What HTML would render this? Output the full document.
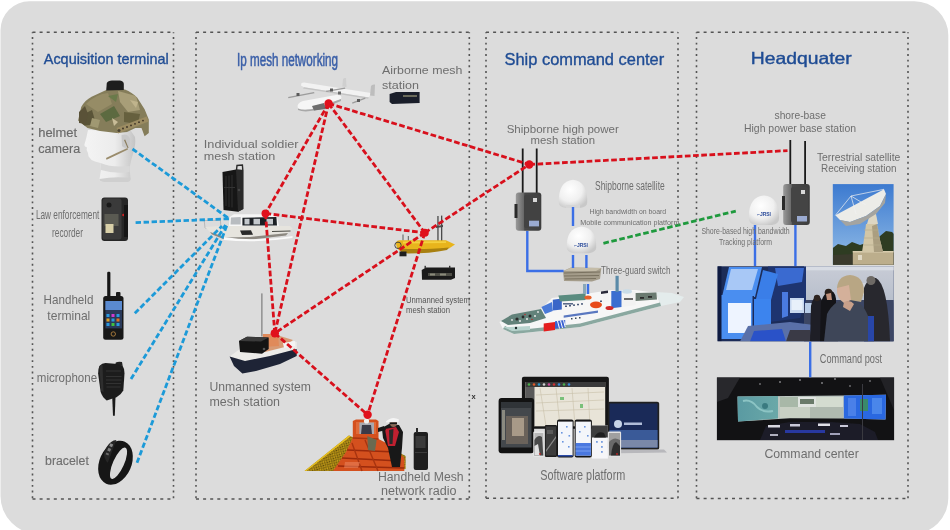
<!DOCTYPE html>
<html><head><meta charset="utf-8">
<style>
html,body{margin:0;padding:0;background:#fff;width:950px;height:530px;overflow:hidden}
svg{display:block;will-change:transform}
text{font-family:"Liberation Sans",sans-serif}
.t{fill:#1f4c94;stroke:#1f4c94;stroke-width:0.35}
.g{fill:#6e6e6e}
</style></head><body>
<svg width="950" height="530" viewBox="0 0 950 530">
<defs>
</defs>
<!-- panel -->
<path d="M29.5 1.2 H914.3 A34 34 0 0 1 948.3 35.2 V498 A36 36 0 0 1 912.3 534 H38.5 A38 38 0 0 1 0.5 496 V30.2 A29 29 0 0 1 29.5 1.2Z" fill="#dcdcdc"/>

<!-- dashed boxes -->
<g fill="none" stroke="#545454" stroke-width="1.6">
<g stroke-dasharray="3 4.1">
<line x1="32.5" y1="32.3" x2="173.5" y2="32.3"/><line x1="32.5" y1="499" x2="173.5" y2="499"/>
<line x1="196" y1="32.3" x2="469.3" y2="32.3"/><line x1="196" y1="499" x2="469.3" y2="499"/>
<line x1="486" y1="32.3" x2="678" y2="32.3"/><line x1="486" y1="498.3" x2="678" y2="498.3"/>
<line x1="696.5" y1="32.3" x2="908" y2="32.3"/><line x1="696.5" y1="498.5" x2="908" y2="498.5"/>
</g>
<g stroke-dasharray="1.9 3.77" stroke-dashoffset="0.95">
<line x1="32.5" y1="32.3" x2="32.5" y2="499"/><line x1="173.5" y1="32.3" x2="173.5" y2="499"/>
<line x1="196" y1="32.3" x2="196" y2="499"/><line x1="469.3" y1="32.3" x2="469.3" y2="499"/>
<line x1="486" y1="32.3" x2="486" y2="498.3"/><line x1="678" y1="32.3" x2="678" y2="498.3"/>
<line x1="696.5" y1="32.3" x2="696.5" y2="498.5"/><line x1="908" y1="32.3" x2="908" y2="498.5"/>
</g>
</g>

<!-- titles -->
<text class="t" x="43.8" y="64.2" font-size="15" textLength="125" lengthAdjust="spacingAndGlyphs">Acquisition terminal</text>
<text class="t" x="237" y="65.8" font-size="18" textLength="101" lengthAdjust="spacingAndGlyphs" style="fill:#3a5fa8;stroke:#3a5fa8;stroke-width:0.55">Ip mesh networking</text>
<text class="t" x="504.5" y="64.7" font-size="16.3" textLength="159.7" lengthAdjust="spacingAndGlyphs">Ship command center</text>
<text class="t" x="750.7" y="63.7" font-size="16.5" textLength="101" lengthAdjust="spacingAndGlyphs" style="stroke-width:0.4">Headquater</text>

<!-- ===== HQ photos ===== -->
<!-- dish photo -->
<g>
<defs>
<linearGradient id="sky" x1="0" y1="0" x2="0" y2="1"><stop offset="0" stop-color="#3c7ad0"/><stop offset="0.7" stop-color="#79a9e0"/><stop offset="1" stop-color="#9cc0e8"/></linearGradient>
<clipPath id="dishclip"><rect x="832.8" y="184.1" width="60.8" height="80.7"/></clipPath>
</defs>
<rect x="832.8" y="184.1" width="60.8" height="80.7" fill="url(#sky)"/>
<g clip-path="url(#dishclip)">
<path d="M832.8 248 L838 244 L846 246 L852 242 L860 245 L866 243 L872 246 L880 236 L886 231 L892 232 L894 234 L894 265 L832.8 265Z" fill="#2e3c22"/>
<path d="M832.8 255 L894 252 L894 265 L832.8 265Z" fill="#3a3a2c"/>
<rect x="852.8" y="251" width="41" height="14" fill="#bcae8c"/>
<rect x="852.8" y="251" width="41" height="1.5" fill="#d8ccae"/>
<rect x="858" y="255" width="4" height="5" fill="#e0d8c4"/>
<path d="M862 252 L864.5 236 L866 224 L877 224 L879 236 L883 252Z" fill="#d2c6a6"/>
<path d="M872 226 L877 224 L879 236 L883 252 L874 252Z" fill="#aa9e80"/>
<path d="M864 230 L879 230 M863.5 238 L880 238 M863 245 L881.5 245" stroke="#b8ac8c" stroke-width="0.7"/>
<path d="M867 224 L870 214 L876 214 L878 224Z" fill="#ddd6c2"/>
<path d="M835.4 215.3 L884 189.3 L886 194 L880 206 L866 216 L850 222 L840 220Z" fill="#ecece8"/>
<path d="M840 220 L850 222 L866 216 L880 206 L886 194 L885 203 L876 214 L860 224 L846 226Z" fill="#a4a4a0"/>
<path d="M835.4 215.3 L851 196 L866 205 M851 196 L884 189.3 M851 196 L856 214" fill="none" stroke="#f0f0f0" stroke-width="0.7"/>
</g>
</g>

<!-- control room photo -->
<g>
<defs><clipPath id="crclip"><rect x="717.5" y="266.3" width="176.1" height="75"/></clipPath>
<linearGradient id="crwall" x1="0" y1="0" x2="0" y2="1"><stop offset="0" stop-color="#c8ccd6"/><stop offset="0.45" stop-color="#b8bfcc"/><stop offset="0.5" stop-color="#8a94aa"/><stop offset="1" stop-color="#4a5470"/></linearGradient></defs>
<rect x="717.5" y="266.3" width="176.1" height="75" fill="#1c2c58"/>
<g clip-path="url(#crclip)">
<rect x="804" y="266.3" width="90" height="75" fill="url(#crwall)"/>
<rect x="804" y="266.3" width="90" height="4" fill="#d8dce4"/>
<rect x="804" y="300" width="90" height="42" fill="#3c4664"/>
<rect x="840" y="283" width="30" height="12" fill="#d0d4dc"/>
<!-- middle structure -->
<path d="M768 266.3 L806 266.3 L806 300 L800 318 L770 322Z" fill="#1e3470"/>
<path d="M775 268 L804 268 L802 282 L778 286Z" fill="#3a6ad0"/>
<path d="M782 292 L788 292 L788 316 L782 318Z" fill="#4a7ae0"/>
<rect x="790" y="298" width="14" height="15" fill="#c8d8f0"/>
<rect x="791.5" y="300" width="11" height="10" fill="#e8f0fa"/>
<rect x="805" y="303" width="7" height="10" fill="#b8cce8"/>
<!-- monitors -->
<path d="M722 297 L729 267 L762 267 L755 297Z" fill="#4a8ef0"/>
<path d="M726 290 L731 269 L758 269 L752 290Z" fill="#a8c8f6"/>
<path d="M756 299 L763 270 L778 274 L771 300Z" fill="#3a7ee8"/>
<rect x="721" y="295" width="32" height="44" fill="#4a8ef0"/>
<rect x="728" y="303" width="23" height="30" fill="#eef4ff"/>
<rect x="753" y="299" width="18" height="29" fill="#3c84ee"/>
<rect x="717.5" y="266.3" width="4" height="75" fill="#0e1a40"/>
<rect x="752.5" y="296" width="1.5" height="40" fill="#1a2a5a"/>
<path d="M740 341.6 L748 326 L790 322 L822 326 L822 341.6Z" fill="#5a70a8"/>
<path d="M750 341.6 L754 331 L782 329 L786 341.6Z" fill="#2a52c8"/>
<path d="M786 341.6 L790 330 L810 330 L812 341.6Z" fill="#3a3a46"/>
<!-- people -->
<path d="M810 341.6 L811 306 Q813 296 818 296 Q823 298 822 306 L824 341.6Z" fill="#1e1e26"/>
<circle cx="817" cy="298" r="3.2" fill="#2e2420"/>
<path d="M820 341.6 L821 302 Q825 290 831 290.5 Q837 293 836 304 L838 341.6Z" fill="#141418"/>
<circle cx="828.5" cy="292.5" r="3.8" fill="#2a201a"/>
<path d="M826 294 L831 293 L832 300 L827 300Z" fill="#c0907a"/>
<path d="M864 341.6 L864 288 Q868 277 876 278 Q888 284 890 341.6Z" fill="#28282e"/>
<circle cx="871" cy="280.5" r="4.5" fill="#6e6a66"/>
<rect x="864" y="316" width="10" height="26" fill="#2846a8"/>
<path d="M824 341.6 L827 314 Q834 300 848 299 Q862 300 868 316 L868 341.6Z" fill="#3e4658"/>
<path d="M837 292 Q836 276 850 275 Q864 276 864 292 L861 302 L850 300Z" fill="#b8a684"/>
<path d="M837 288 Q836 298 844 303 L851 300 L849 285Z" fill="#d4b09a"/>
<path d="M844 302 q6 -3 10 2 l-4 7 -7 -4z" fill="#c8a08a"/>
</g>
</g>

<!-- command center photo -->
<g>
<defs>
<clipPath id="ccclip"><rect x="716.9" y="377.4" width="177.2" height="62.8"/></clipPath>
<linearGradient id="scrL" x1="0" y1="0" x2="1" y2="0"><stop offset="0" stop-color="#5a9aa2"/><stop offset="1" stop-color="#6aa8a8"/></linearGradient>
</defs>
<rect x="716.9" y="377.4" width="177.2" height="62.8" fill="#121214"/>
<g clip-path="url(#ccclip)">
<path d="M716.9 377.4 L740 377.4 L728 398 L716.9 402Z" fill="#28282c"/>
<path d="M880 377.4 L894 377.4 L894 410Z" fill="#222226"/>
<path d="M737.5 396.5 L843.8 395.5 L886 394.8 L885.5 419.5 L843.8 418.5 L790 418.3 L738 421.5Z" fill="#bcc6c0"/>
<path d="M737.5 396.5 L778 396 L778 418.4 L738 421.5Z" fill="url(#scrL)"/>
<path d="M743 401 q8 -2 14 6 q6 6 16 4" fill="none" stroke="#8cc4c4" stroke-width="2"/>
<circle cx="765" cy="406" r="3" fill="#3a7a80"/>
<rect x="780" y="397" width="18" height="10" fill="#a8b8a8"/>
<rect x="798" y="397" width="18" height="10" fill="#e0e4e0"/>
<rect x="800" y="399" width="14" height="5" fill="#6a7a6a"/>
<rect x="816" y="397" width="27" height="10" fill="#d4dcd0"/>
<rect x="780" y="407" width="30" height="11" fill="#c8d0c4"/>
<rect x="810" y="407" width="33" height="11" fill="#b0bab0"/>
<path d="M843.8 395.5 L886 394.8 L885.5 419.5 L843.8 418.5Z" fill="#2a68e0"/>
<rect x="860" y="399" width="8" height="12" fill="#3a8a6a"/>
<rect x="848" y="398" width="8" height="18" fill="#4a80e8"/>
<rect x="872" y="398" width="10" height="16" fill="#4a86ea"/>
<!-- consoles -->
<path d="M760 440 L766 426 L790 422 L830 422 L860 424 L875 432 L878 440Z" fill="#1c1c28"/>
<rect x="768" y="425" width="12" height="2.5" fill="#d8d8e0"/>
<rect x="790" y="424" width="10" height="2.5" fill="#c8c8d8"/>
<rect x="818" y="423.5" width="12" height="2.5" fill="#e0e0e8"/>
<rect x="840" y="425" width="8" height="2" fill="#c8c8d8"/>
<rect x="785" y="430" width="40" height="3" fill="#2838a0"/>
<rect x="770" y="434" width="8" height="2" fill="#b0b0c0"/>
<rect x="830" y="433" width="10" height="2" fill="#a0a0b8"/>
<rect x="862" y="384" width="1" height="56" fill="#3a3a40"/>
<g fill="#c8c8cc"><circle cx="780" cy="382" r="0.8"/><circle cx="800" cy="380" r="0.8"/><circle cx="822" cy="383" r="0.8"/><circle cx="835" cy="379" r="0.8"/><circle cx="760" cy="384" r="0.7"/><circle cx="850" cy="386" r="0.7"/><circle cx="870" cy="381" r="0.7"/></g>
</g>
</g>

<!-- ===== Ship column ===== -->
<defs>
<radialGradient id="dome" cx="0.4" cy="0.35" r="0.7"><stop offset="0" stop-color="#ffffff"/><stop offset="0.6" stop-color="#f0f0f0"/><stop offset="1" stop-color="#c8c8c8"/></radialGradient>
<linearGradient id="boxg" x1="0" y1="0" x2="1" y2="0"><stop offset="0" stop-color="#9a9a9a"/><stop offset="0.3" stop-color="#6a6a6a"/><stop offset="0.35" stop-color="#484848"/><stop offset="1" stop-color="#3e3e3e"/></linearGradient>
</defs>
<!-- shipborne station -->
<g>
<rect x="521.8" y="148.5" width="1.8" height="46" fill="#1a1a1a"/>
<rect x="535.8" y="148.5" width="1.8" height="46" fill="#1a1a1a"/>
<rect x="515.8" y="192.4" width="25.5" height="38.3" rx="3" fill="url(#boxg)"/>
<rect x="524" y="195" width="16" height="33" rx="2" fill="#424242"/>
<rect x="533" y="198" width="4" height="4" fill="#d8d8d8"/>
<rect x="529" y="220.7" width="10" height="5.7" fill="#9aaad0"/>
<rect x="514.5" y="204" width="3" height="14" fill="#2a2a2a"/>
</g>
<!-- dome 1 -->
<path d="M558.8 203 Q558 181 573 179.7 Q588 181 587.2 203 Q587 207 580 208 L566 208 Q559 207 558.8 203Z" fill="url(#dome)"/>
<rect x="566" y="205" width="14" height="3" fill="#d6d6d6"/>
<!-- dome 2 -->
<path d="M566.8 248 Q566 228 581.5 226.4 Q597 228 596.2 248 Q596 252 589 253.3 L574 253.3 Q567 252 566.8 248Z" fill="url(#dome)"/>
<text x="574" y="246.8" font-size="4.6" font-weight="bold" fill="#2a4a9a" textLength="14" lengthAdjust="spacingAndGlyphs" stroke="none">⌐JRSI</text>
<!-- switch -->
<path d="M563 271 L571 267.5 L601.3 268 L600 279 L592 281.6 L564 281Z" fill="#a49c8a"/>
<path d="M564 273 L600 272 M564 276 L599 275.5 M565 279 L596 278.5" stroke="#7a7260" stroke-width="1"/>
<path d="M571 267.5 L601.3 268 L596 271 L564 271Z" fill="#c4bca8"/>
<!-- ship -->
<g>
<path d="M656 292 L672 293 L684 297 L680 302 L661 306Z" fill="#e4ecec"/>
<path d="M499.5 322 L510 316 L541 309 L552 298 L585 294 L611 290 L636 290 L656 293 L659 301 L661 306 L580 327 L514 334 L503 329Z" fill="#f6f6f6"/>
<path d="M503 329 L514 334 L580 327 L661 306 L660 302.5 L580 323.5 L514 330.5 L505 326Z" fill="#8aa8a0"/>
<path d="M501 321 L512 314.5 L541 309 L546 318 L530 323 L508 325Z" fill="#62827a"/>
<path d="M503 327 L512 331 L530 330 L530 326 L510 327Z" fill="#b8d4ce"/>
<g fill="#2a2a2a"><circle cx="517" cy="319" r="1.6"/><circle cx="523" cy="317" r="1.4"/><circle cx="530" cy="316" r="1.5"/></g>
<g fill="#e8e8e8"><circle cx="520" cy="321" r="1"/><circle cx="527" cy="319" r="1"/><circle cx="535" cy="316" r="1"/><circle cx="512" cy="320" r="0.9"/><circle cx="538" cy="312" r="0.9"/></g><g fill="#b83030"><circle cx="525" cy="314.5" r="0.8"/><circle cx="532" cy="319.5" r="0.8"/></g>
<path d="M543.7 323.5 L555 322 L555 330 L543.7 331.5Z" fill="#e41e1e"/>
<path d="M555 321.3 L565.2 320 L565.2 327.5 L555 328.8Z" fill="#3a62d0"/>
<path d="M557.5 321 L559.5 328.5 M560.5 320.6 L562.5 328 M563.5 320.3 L565.2 327" stroke="#ffffff" stroke-width="1"/>
<path d="M541.4 307 L552 302 L552.8 311 L545 314Z" fill="#4a7ad8"/>
<path d="M552.8 299.8 L561.8 298.5 L561.8 309.5 L552.8 310.6Z" fill="#3a66c8"/>
<path d="M558.4 295.5 L585.6 293.5 L585.6 300 L560 301.5Z" fill="#5a8c80"/>
<rect x="563" y="303" width="10" height="1.6" fill="#5a6a8a"/>
<path d="M563.7 315.5 L598 310.5 L598 312.8 L563.7 317.8Z" fill="#5a78c0"/>
<g fill="#4a5a7a"><rect x="565" y="305.5" width="2" height="1.5"/><rect x="569" y="305" width="2" height="1.5"/><rect x="573" y="304.4" width="2" height="1.5"/><rect x="577" y="303.8" width="2" height="1.5"/><rect x="581" y="303.2" width="2" height="1.5"/><rect x="600" y="300.5" width="2" height="1.5"/><rect x="604" y="300" width="2" height="1.5"/></g>
<g fill="#3a4a5a"><rect x="571" y="318" width="1.5" height="1.5"/><rect x="575" y="317.5" width="1.5" height="1.5"/><rect x="579" y="317" width="1.5" height="1.5"/></g>
<path d="M611.3 291 L621.7 290.8 L621.7 307 L611.3 308.2Z" fill="#3a6ed0"/>
<path d="M621.7 291 L635.6 290.8 L635.6 305 L621.7 307Z" fill="#f2f2f2"/>
<rect x="624" y="298" width="9" height="2" fill="#6a6a6a"/>
<ellipse cx="627" cy="291.5" rx="5" ry="2.2" fill="#c8dce8"/>
<rect x="615.5" y="275.8" width="3.2" height="16" fill="#5a8aa8"/>
<rect x="603" y="292" width="6" height="10" fill="#f4f4f4"/>
<path d="M601 291.5 L608 290.5 L608 293 L601 294Z" fill="#2a2a3a"/>
<path d="M635.6 293 L656.4 292.5 L657 299.5 L635.6 301Z" fill="#6a7a70"/>
<rect x="640" y="297" width="4" height="1.8" fill="#2a2a2a"/><rect x="648" y="296" width="4" height="1.8" fill="#2a2a2a"/>
<ellipse cx="596" cy="304.8" rx="6" ry="3.4" fill="#e84a1a"/>
<ellipse cx="588" cy="297.5" rx="3.6" ry="2" fill="#e8602a"/>
<ellipse cx="609.5" cy="308" rx="4" ry="2" fill="#d02a2a"/>
<circle cx="516" cy="328" r="1.2" fill="#1a2a2a"/>
<rect x="583" y="284" width="3" height="10" fill="#8aa8b8"/>
</g>

<!-- software platform -->
<g>
<rect x="521.9" y="376.8" width="87" height="52" rx="2" fill="#151515"/>
<rect x="525.5" y="382" width="79.7" height="44.3" fill="#e8e4d8"/>
<rect x="525.5" y="382" width="79.7" height="5" fill="#3a3a3a"/>
<g fill="#4ab04a"><circle cx="529" cy="384.5" r="1.3"/></g>
<circle cx="534" cy="384.5" r="1.3" fill="#e05a2a"/><circle cx="539" cy="384.5" r="1.3" fill="#2a9ad0"/><circle cx="544" cy="384.5" r="1.3" fill="#d0d0d0"/><circle cx="549" cy="384.5" r="1.3" fill="#d04a9a"/><circle cx="554" cy="384.5" r="1.3" fill="#d03030"/><circle cx="559" cy="384.5" r="1.3" fill="#3a8ad8"/><circle cx="564" cy="384.5" r="1.3" fill="#4ab04a"/><circle cx="569" cy="384.5" r="1.3" fill="#3a8ad8"/>
<rect x="525.5" y="387" width="9" height="39" fill="#5a5a5a"/>
<g stroke="#c8c0a8" stroke-width="0.6"><path d="M536 395 L604 392 M536 403 L604 400 M536 411 L604 409 M540 388 L546 426 M556 388 L560 426 M572 388 L575 426 M588 388 L590 426"/></g>
<g fill="#7ac07a"><rect x="560" y="397" width="4" height="3"/><rect x="580" y="404" width="3" height="4"/></g>
<!-- laptop -->
<rect x="607.7" y="401.8" width="51.5" height="48" rx="2" fill="#202020"/>
<rect x="609.5" y="403.5" width="48" height="44" fill="#1a2a58"/>
<rect x="609.5" y="430" width="48" height="17.5" fill="#3a5a98"/>
<rect x="609.5" y="440" width="48" height="7.5" fill="#7a88a8"/>
<circle cx="618" cy="424" r="4" fill="#c8d4e8"/>
<rect x="624" y="422.5" width="18" height="2.5" fill="#b0bcd8"/>
<path d="M620 449.6 L664 449.6 L667 452.5 L620 453.3Z" fill="#b8b8bc"/>
<!-- tablet -->
<rect x="498.6" y="398" width="35.5" height="55.3" rx="3" fill="#121212"/>
<rect x="501" y="402" width="30.5" height="45.5" fill="#44484c"/>
<rect x="501" y="402" width="30.5" height="6" fill="#303438"/>
<rect x="506" y="416" width="22" height="28" fill="#6a625a"/>
<rect x="512" y="418" width="12" height="18" fill="#a89a88"/>
<rect x="502" y="410" width="3" height="30" fill="#8a8a80"/>
<!-- phones -->
<rect x="533.3" y="431.5" width="11" height="25.5" rx="1.2" fill="#e6e6e6"/>
<rect x="534.4" y="433" width="8.9" height="22.5" fill="#b8b8b8"/>
<path d="M534.4 440 Q538 434 542 437 L543.3 455.5 L534.4 455.5Z" fill="#4a4a4a"/>
<path d="M534.4 446 L538 444 L540 455.5 L534.4 455.5Z" fill="#e0e0e0"/>
<circle cx="540" cy="454" r="0.9" fill="#c02020"/>
<rect x="544.9" y="425" width="12.1" height="32" rx="1.2" fill="#1e1e1e"/>
<rect x="545.8" y="426.5" width="10.3" height="29" fill="#3c3c3c"/>
<path d="M546 450 L556 436 L556 438 L546 452Z" fill="#8a8a8a"/>
<rect x="547" y="430" width="6" height="4" fill="#5a5a5a"/>
<rect x="557" y="419.4" width="16.6" height="38.1" rx="2" fill="#161616"/>
<rect x="558" y="421.6" width="14.6" height="34" fill="#f4f6fa"/>
<g fill="#6a96e0"><rect x="566" y="426" width="1.6" height="1.6"/><rect x="561" y="432" width="1.6" height="1.6"/><rect x="568.5" y="435" width="1.6" height="1.6"/><rect x="562" y="441" width="1.6" height="1.6"/><rect x="568" y="446" width="1.6" height="1.6"/></g>
<rect x="558" y="455" width="14.6" height="1.5" fill="#2a4aa8"/>
<rect x="574.7" y="419.4" width="17.2" height="38.1" rx="2" fill="#161616"/>
<rect x="575.7" y="421.6" width="15.2" height="34" fill="#f4f6fa"/>
<g fill="#6a96e0"><rect x="584" y="426" width="1.6" height="1.6"/><rect x="579" y="431" width="1.6" height="1.6"/><rect x="587" y="435" width="1.6" height="1.6"/></g>
<rect x="575.7" y="443" width="15.2" height="12.6" fill="#4a78e0"/>
<rect x="575.7" y="446.5" width="15.2" height="1" fill="#7aa0f0"/><rect x="575.7" y="450.5" width="15.2" height="1" fill="#7aa0f0"/>
<rect x="591.9" y="425.5" width="16" height="33.1" fill="#f6f6f8"/>
<rect x="591.9" y="425.5" width="16" height="12" fill="#3e3e3e"/>
<path d="M594 437.5 Q598 430 604 433 L606 437.5Z" fill="#1e1e1e"/>
<g fill="#7aa0e0"><rect x="601" y="441" width="1.8" height="1.8"/><rect x="601" y="446" width="1.8" height="1.8"/><rect x="601" y="451" width="1.8" height="1.8"/><rect x="596" y="441" width="1.8" height="1.8"/></g>
<rect x="607.9" y="431.5" width="13.2" height="25.5" rx="1.2" fill="#e2e2e2"/>
<rect x="609" y="433" width="11" height="22.5" fill="#6a6a6a"/>
<path d="M609 433 L620 433 L620 440 Q614 436 609 442Z" fill="#a0a0a0"/>
<path d="M611 455.5 Q612 444 616 442 L620 446 L620 455.5Z" fill="#2e2e2e"/>
<circle cx="617" cy="454" r="0.9" fill="#c02020"/>
</g>

<!-- HQ base station & dome -->
<g>
<rect x="789.4" y="140" width="1.8" height="48" fill="#1a1a1a"/>
<rect x="804.2" y="141" width="1.8" height="48" fill="#1a1a1a"/>
<rect x="783.2" y="184" width="26.6" height="41" rx="3" fill="url(#boxg)"/>
<rect x="791" y="187" width="17" height="35.5" rx="2" fill="#444"/>
<rect x="801" y="190" width="4" height="4" fill="#d8d8d8"/>
<rect x="797" y="216" width="10" height="5.5" fill="#9aaad0"/>
<rect x="782" y="196" width="3" height="14" fill="#2a2a2a"/>
</g>
<path d="M748.9 219 Q748 197 764 195.6 Q780 197 779 219 Q779 224 772 225 L756 225 Q749 224 748.9 219Z" fill="url(#dome)"/>
<text x="757" y="215.8" font-size="4.6" font-weight="bold" fill="#2a4a9a" textLength="14" lengthAdjust="spacingAndGlyphs" stroke="none">⌐JRSI</text>

<!-- ===== Mesh column ===== -->
<!-- drone -->
<g>
<path d="M301.5 83 L304 82.5 L371 93 L369 97.6 L304 87.2 L301 85.5Z" fill="#f2f2f2"/>
<path d="M304 87.2 L369 97.6 L368 98.8 L303 88.6Z" fill="#c4c4c4"/>
<path d="M342.3 86.5 L343 79 Q344 77.5 346 78 L346.5 87Z" fill="#cfcfcf"/>
<path d="M370 95.5 L371 86 Q372 84 375 84.5 L374.5 96Z" fill="#bdbdbd"/>
<path d="M288 97 L314 92 L314.5 93.2 L288.5 98.3Z" fill="#9c9c9c"/>
<path d="M326 90.8 L345 87.5 L345.3 88.7 L326.3 92Z" fill="#9c9c9c"/>
<path d="M352 102.5 L365 97.5 L365.5 98.7 L352.5 103.7Z" fill="#9c9c9c"/>
<rect x="296.5" y="93" width="3" height="3" fill="#5a5a5a"/>
<rect x="330" y="88.5" width="3" height="3" fill="#5a5a5a"/>
<rect x="357" y="99" width="3" height="3" fill="#5a5a5a"/>
<rect x="338" y="91.5" width="3" height="3" fill="#6a6a6a"/>
<path d="M298 108.5 Q296 103 303 101 L336 95 Q343 94.5 341 99 L318 107.5 Q305 111.5 298 108.5Z" fill="#f6f6f6"/>
<path d="M298 108.5 Q305 111.5 318 107.5 L341 99 L341 101 L320 109.6 Q304 113 298 110Z" fill="#a8a8a8"/>
<path d="M312 106 L324 103 L326 109 L314 110.5Z" fill="#6e6e6e"/>
</g>
<!-- airborne box -->
<path d="M389.6 94 L396 92 L419.6 92 L419.6 103 L392 104 L389.6 102Z" fill="#1a1e2a"/>
<rect x="403" y="95" width="14" height="2" fill="#6a6a5a"/>
<!-- backpack -->
<g>
<path d="M236.5 170 L237 165.5 L242.4 165 L242.8 170" fill="none" stroke="#2a2a2a" stroke-width="1.4"/>
<path d="M222.5 172 L236 169.5 L243.3 170 L243.3 209 L238 211.8 L223.5 210Z" fill="#161616"/>
<path d="M236 169.5 L243.3 170 L243.3 209 L238 211.8Z" fill="#2a2a2a"/>
<g stroke="#353535" stroke-width="0.8"><path d="M226 176 L226 206 M229 175.5 L229 207 M232 175 L232 207.5"/></g>
<rect x="224" y="187" width="11" height="1" fill="#333"/>
<circle cx="239" cy="190" r="1.3" fill="#444"/>
</g>
<!-- white boat -->
<g>
<path d="M204.2 220.5 L220.4 220.3 L221 228 L205 228Z" fill="none" stroke="#b8b8b8" stroke-width="1"/>
<path d="M205 227 L226 225.5 L290 226 L292.5 228.5 L288 233 L250 237 L226 237.5 L210 232Z" fill="#e6e4de"/>
<path d="M210 232 L226 237.5 L250 237 L288 233 L286 235.5 L250 239.8 L226 240 L212 234.5Z" fill="#8c8880"/>
<path d="M228.9 226 L229.7 216.9 L234 214.3 L276.4 214.3 L279 226Z" fill="#f6f6f6"/>
<path d="M230.5 224.5 L231 217.5 L240.7 216.9 L240.7 224.5Z" fill="#b8bcc0"/>
<path d="M242.4 217.7 L276.4 217 L277 225.4 L242.4 225.4Z" fill="#1c2024"/>
<g fill="#c4c8cc"><rect x="244.5" y="218.8" width="5" height="5.6"/><rect x="253.5" y="218.8" width="6.5" height="5.6"/><rect x="266.5" y="218.8" width="6.5" height="5.6"/></g>
<path d="M240 230.6 L251 230.2 L253 234.7 L242 235Z" fill="#2a2a2a"/><path d="M272 231 L290.5 230.5 L290.5 231.6 L272 232Z" fill="#4a4a44"/>
<path d="M223.8 237 Q255 242 292.5 236 L292.5 238 Q255 243.5 223.8 240Z" fill="#fafafa"/>
</g>
<!-- yellow boat -->
<g>
<rect x="437.3" y="216" width="1.3" height="25" fill="#4a4a4a"/>
<rect x="441" y="215.6" width="1.3" height="25.5" fill="#4a4a4a"/>
<path d="M436 226 L443 225 L443 227 L436 228Z" fill="#4a4a4a"/>
<rect x="402.5" y="234.5" width="1" height="6" fill="#5a5a5a"/>
<rect x="407.8" y="236" width="1" height="5" fill="#5a5a5a"/>
<path d="M396 243 Q396 240.5 400 240.2 L446 240.2 L455 244.5 L449 248.5 Q430 252.5 408 252.5 L400 251 Q396 248 396 243Z" fill="#e8b41c"/>
<path d="M400 248.5 Q420 250 449 247.5 L447 250 Q430 253.5 408 253.5 L401 252Z" fill="#a88010"/>
<path d="M403 241.5 L446 241.2 L446 243 L403 243.5Z" fill="#f4d040"/>
<circle cx="398" cy="245.3" r="3.2" fill="none" stroke="#3a3a3a" stroke-width="0.9"/>
<rect x="399.5" y="251.5" width="7" height="4.8" fill="#1e1e1e"/>
</g>
<!-- small box -->
<path d="M421.7 270 L426 267.5 L455 267.5 L455 278 L451 279.7 L422 279.7Z" fill="#1a1a1a"/>
<rect x="424.5" y="265.8" width="1.4" height="2.5" fill="#333"/><rect x="449" y="265.8" width="1.4" height="2.5" fill="#333"/>
<rect x="428" y="273" width="24" height="3" fill="#4e4e46"/><rect x="430" y="273.5" width="5" height="2" fill="#8a8a7a"/><rect x="440" y="273.5" width="6" height="2" fill="#8a8a7a"/>
<!-- orange boat -->
<g>
<rect x="261.4" y="293.4" width="1" height="43" fill="#6a6a6a"/>
<path d="M229.6 356.5 L240 349 L262 344 L285 338 L296.7 342 L296.7 349 L270 356 L245 361Z" fill="#ecebe8"/>
<path d="M250 348 L262 340 L280 336 L293 340 L285 347 L265 352Z" fill="#d89a74"/>
<path d="M262.8 334 L278 334 L279 346 L263 347Z" fill="#e08a5a"/>
<path d="M229.6 356.5 L245 361 L270 356 L296.7 349 L296.7 356 L280 364 L256 371 L242.4 373.5 L234 366Z" fill="#1e2436"/>
<path d="M239 341 L247 336.7 L268.7 337.5 L268.7 349 L262 353.7 L240 352Z" fill="#141414"/>
<path d="M239 341 L247 336.7 L268.7 337.5 L261 341.5Z" fill="#3a3a3a"/>
<circle cx="264" cy="349" r="1.3" fill="#555"/>
<path d="M283 343 L295 341 L295 346 L284 348Z" fill="#f4f4f4"/>
</g>
<!-- deck photo -->
<g>
<defs><pattern id="chk" width="2.4" height="2.4" patternUnits="userSpaceOnUse" patternTransform="rotate(-35)"><rect width="2.4" height="2.4" fill="#c8a018"/><rect width="1.2" height="1.2" fill="#5a4808"/><rect x="1.2" y="1.2" width="1.2" height="1.2" fill="#7a6010"/></pattern></defs>
<path d="M304.6 471 L348.9 435.4 L353.5 437.5 L346.5 452 L334 471Z" fill="url(#chk)"/>
<path d="M304.6 471 L348.9 435.4 L350.5 436.5 L306.5 471Z" fill="#e8c020"/>
<path d="M396.4 451 L405.6 456 L405.6 469 L398 470Z" fill="url(#chk)"/>
<path d="M333 471 L346 452 L352.8 438 L352.8 421 L356 419.5 L376 419.5 L378.5 421 L378.5 439 L392 446 L404.3 458 L404.3 471Z" fill="#d4501e"/>
<path d="M356 422 L376 422 L376 434 L356 434Z" fill="#e06a38"/>
<path d="M359.4 422.5 L374 422.5 L374 434 L359.4 434Z" fill="#a8a8b0"/>
<path d="M362 425 L371 425 L372 434 L361 434Z" fill="#3a3a48"/>
<circle cx="366.5" cy="421" r="2.6" fill="#f0f0f0"/>
<path d="M338 466 L404 468 M342 458 L400 461 M347 450 L396 452" stroke="#9a2a0c" stroke-width="1.6"/>
<path d="M352 443 L362 471 M365 440 L378 471 M352.8 438 L378.5 439" stroke="#a83410" stroke-width="1.4"/>
<path d="M345 462 L360 462 L358 468 L344 468Z" fill="#e8805a" opacity="0.6"/>
<path d="M367.3 436 L376.6 440 L375 451 L368 450Z" fill="#6a6a50"/>
<path d="M381.9 428 L389 424 L399 425 L403 432 L402 448 L400 467 L392 467 L388 448 L383 438Z" fill="#181818"/>
<path d="M385 429 L396 427 L399 432 L395 446 L388 446Z" fill="#c02030"/>
<path d="M389 430 L393.5 429 L392.5 444 L389.5 444Z" fill="#2a2a2a"/>
<circle cx="393.5" cy="423.5" r="3.4" fill="#8a6a58"/>
<path d="M386 421.5 Q392 415.5 399 419.5 L398.5 422 L386 422.5Z" fill="#f4f4f4"/>
<rect x="389.5" y="422.5" width="7.5" height="1.6" fill="#1a1a1a"/>
<path d="M378 428 L384 426 L386 430 L378 432Z" fill="#181818"/>
</g>
<!-- handheld radio -->
<rect x="413.7" y="432" width="14.3" height="38" rx="2" fill="#1e1e1e"/>
<rect x="416" y="428" width="2" height="5" fill="#2a2a2a"/>
<rect x="415.5" y="436" width="10" height="12" fill="#3a3a3a"/>
<rect x="415" y="452" width="12" height="1" fill="#3a3a3a"/>

<!-- ===== Acquisition column ===== -->
<!-- helmet + head -->
<g>
<defs><linearGradient id="headg" x1="0" y1="0" x2="1" y2="0"><stop offset="0" stop-color="#f4f4f4"/><stop offset="0.6" stop-color="#ececec"/><stop offset="1" stop-color="#c4c4c4"/></linearGradient>
<clipPath id="helmclip"><path d="M78.1 120.6 L81.2 107 Q85 100 91.6 96.7 L106.2 90 L124.9 89.4 Q132 92 137.3 97.7 L144.6 109.2 L148.8 119.6 L148.8 133 L144.6 136.2 L141.5 127.9 L135.3 127.9 L127 132 L116.6 133 L100 131 L87.5 127.9Z"/></clipPath></defs>
<path d="M88 130 L86.5 137 Q85.5 141 84.3 145 Q84.5 146.8 87 147.6 L86.6 150 L87.8 152.5 L88.6 156.5 Q90.5 160 95 161.5 L100.5 163 L101 170 L99.5 179 Q99 181.5 104 182 L127 182 Q131 181.5 130.5 178 L129.5 168 Q131 160 133.5 152 Q136 144 135 137 L131 131Z" fill="url(#headg)"/>
<path d="M100.5 163 Q112 168 129.5 166 L129.5 172 Q114 174 101 170Z" fill="#d8d8d8"/>
<path d="M99.5 179 Q99 181.5 104 182 L127 182 Q131 181.5 130.5 178 Q115 176 99.5 179Z" fill="#cfcfcf"/>
<path d="M121.5 135 Q128 133 130 139 L129.5 147 Q125 149.5 122 146Z" fill="#c8c8c8"/>
<path d="M106 158 Q116 153 127.5 148 L128 149.6 Q117 155 106.5 159.8Z" fill="#9a8c6c"/><path d="M127.5 148 L124 140 L125.2 139.6 L128.6 148Z" fill="#8a7c5c"/>
<path d="M78.1 120.6 L81.2 107 Q85 100 91.6 96.7 L106.2 90 L124.9 89.4 Q132 92 137.3 97.7 L144.6 109.2 L148.8 119.6 L148.8 133 L144.6 136.2 L141.5 127.9 L135.3 127.9 L127 132 L116.6 133 L100 131 L87.5 127.9Z" fill="#857d5a"/>
<g clip-path="url(#helmclip)">
<path d="M86 104 Q96 94 108 93 L112 104 L98 112Z" fill="#968c66"/>
<path d="M118 91 L136 96 L140 110 L128 112 L120 102Z" fill="#a89e78"/>
<path d="M100 114 L114 106 L120 116 L106 122Z" fill="#5c6a40"/>
<path d="M124 112 L140 114 L138 124 L124 122Z" fill="#66603e"/>
<path d="M80 116 L92 110 L96 124 L82 126Z" fill="#5a5438"/>
<path d="M108 96 L118 94 L116 102Z" fill="#6a7a4a"/>
<path d="M92 118 L100 120 L98 128 L90 126Z" fill="#a09872"/>
<path d="M130 100 L138 102 L136 108Z" fill="#c0b48c"/>
<path d="M112 118 L118 122 L114 126Z" fill="#c8bc98"/>
</g>
<path d="M116.6 128 L146.7 116.4 L148.5 121.5 L118 133.5Z" fill="#9c8c62"/>
<g fill="#3a3024"><circle cx="123" cy="128.5" r="0.9"/><circle cx="127" cy="127" r="0.9"/><circle cx="131" cy="125.4" r="0.9"/><circle cx="135" cy="123.8" r="0.9"/><circle cx="139" cy="122.2" r="0.9"/><circle cx="143" cy="120.6" r="0.9"/></g>
<circle cx="119" cy="130.5" r="1.6" fill="#4a4434"/>
<path d="M79 112 L85 106 L88 114 L86 124 L79 123Z" fill="#5a5238"/>
<path d="M106.2 90.5 L106.8 83 Q108 80.5 112 80.5 L120 80.5 Q123.8 81 123.8 84 L123.8 90Z" fill="#1e1e1e"/>
</g>
<!-- recorder -->
<g>
<rect x="101.5" y="197.5" width="26.5" height="43.5" rx="3" fill="#262626"/>
<rect x="102.5" y="198.5" width="19" height="41" rx="2.5" fill="#3a3a3a"/>
<circle cx="109" cy="205" r="2.5" fill="#1a1a1a"/>
<rect x="104.5" y="214" width="14" height="12" fill="#5a5a52"/>
<rect x="105.5" y="224" width="8" height="9" fill="#d8cfa8"/>
<circle cx="123.5" cy="215" r="1.3" fill="#d02020"/>
<rect x="124" y="205" width="4" height="32" fill="#151515"/>
</g>
<!-- handheld terminal -->
<g>
<rect x="107.2" y="271.8" width="3.2" height="26" rx="1.2" fill="#151515"/>
<rect x="116" y="292" width="4.5" height="5" rx="1" fill="#1a1a1a"/>
<rect x="103.2" y="296" width="20.3" height="43.7" rx="2.5" fill="#181818"/>
<rect x="105.4" y="301" width="16.6" height="27.4" fill="#2a3a5a"/>
<rect x="105.4" y="301" width="16.6" height="9" fill="#5a8ad0"/>
<g><rect x="106.5" y="314" width="3" height="3" fill="#2a9ae0"/><rect x="111.5" y="314" width="3" height="3" fill="#d03ad0"/><rect x="116.5" y="314" width="3" height="3" fill="#2a9ae0"/>
<rect x="106.5" y="318.5" width="3" height="3" fill="#e0a020"/><rect x="111.5" y="318.5" width="3" height="3" fill="#2a9ae0"/><rect x="116.5" y="318.5" width="3" height="3" fill="#e07020"/>
<rect x="106.5" y="323" width="3" height="3" fill="#2a9ae0"/><rect x="111.5" y="323" width="3" height="3" fill="#40c040"/><rect x="116.5" y="323" width="3" height="3" fill="#2a9ae0"/></g>
<circle cx="113.3" cy="334" r="2.2" fill="none" stroke="#c08a40" stroke-width="0.8"/>
</g>
<!-- microphone -->
<g>
<path d="M115.3 365 L115.8 362.5 Q118.5 361.2 122 362 L122.7 366Z" fill="#222"/>
<path d="M99.4 366 Q102 363 105.5 363 L118 364 L122.7 366 Q124.8 369 124.5 373.4 L123.3 390.6 Q121 395 116.5 397.3 L106.7 400.4 Q102 397 100.6 391.8 L98.1 373.4 Q98 369 99.4 366Z" fill="#1c1c1c"/>
<path d="M99.4 367 Q100.5 365 102.5 364.5 L103.5 392 L101 391Z" fill="#2e2e2e"/>
<g stroke="#353535" stroke-width="0.9"><path d="M106 371 L121 371 M106 376.5 L121.5 376.5 M106 380 L121.5 380 M106 383.5 L121 383.5 M106.5 387 L120.5 387"/></g>
<path d="M112.2 397 L115.5 396.7 L114.8 415.7 L113 415.7Z" fill="#1a1a1a"/>
</g>
<!-- bracelet -->
<g transform="rotate(24 115.5 462.7)">
<ellipse cx="115.5" cy="462.7" rx="16" ry="23" fill="#161616"/>
<ellipse cx="118.5" cy="462" rx="5.5" ry="17" fill="#dadada"/>
<path d="M101 452 Q102 444 107 441.5 L108.5 466 Q103 464 101 458Z" fill="#262626"/>
<rect x="103" y="447" width="3" height="3" fill="#8a8a8a"/><rect x="103" y="452" width="3" height="3" fill="#7a7a7a"/><rect x="103" y="457" width="3" height="2" fill="#6a6a6a"/>
</g>


<!-- solid blue links -->
<g stroke="#3b6fe6" stroke-width="2.4" fill="none">
<polyline points="527.3,231 527.3,271 563.6,271"/>
<line x1="573" y1="207" x2="573" y2="226"/>
<line x1="573" y1="255" x2="573" y2="268"/>
<line x1="586.4" y1="255" x2="586.4" y2="268"/>
<line x1="588" y1="284" x2="588" y2="294"/>
<line x1="755" y1="225" x2="755" y2="266"/>
<line x1="795.4" y1="225" x2="795.4" y2="266"/>
<line x1="810.2" y1="341.6" x2="810.2" y2="377.3"/>
</g>
<!-- blue dashed -->
<g stroke="#1c9ad8" stroke-width="2.8" stroke-dasharray="5.4 2.6" fill="none">
<line x1="132.5" y1="149" x2="229.8" y2="219.2"/>
<line x1="135.6" y1="222.6" x2="229.8" y2="218.7"/>
<line x1="134.8" y1="313.3" x2="222" y2="226"/>
<line x1="131" y1="379" x2="225.5" y2="225"/>
<line x1="137" y1="462.7" x2="227" y2="225"/>
</g>
<!-- green dashed -->
<line x1="603.4" y1="243.3" x2="735.8" y2="211.1" stroke="#1f9a3e" stroke-width="2.8" stroke-dasharray="5.6 2.6"/>
<!-- red dashed -->
<g stroke="#d8101c" stroke-width="2.8" stroke-dasharray="5.7 2.5" fill="none">
<line x1="328.6" y1="103.5" x2="265.5" y2="213.5"/>
<line x1="328.6" y1="103.5" x2="274.8" y2="333.2"/>
<line x1="328.6" y1="103.5" x2="424.8" y2="232.8"/>
<line x1="328.6" y1="103.5" x2="529.3" y2="164.5"/>
<line x1="265.5" y1="213.5" x2="424.8" y2="232.8"/>
<line x1="265.5" y1="213.5" x2="274.8" y2="333.2"/>
<line x1="424.8" y1="232.8" x2="529.3" y2="164.5"/>
<line x1="424.8" y1="232.8" x2="274.8" y2="333.2"/>
<line x1="424.8" y1="232.8" x2="367.6" y2="414.8"/>
<line x1="274.8" y1="333.2" x2="367.6" y2="414.8"/>
<line x1="529.3" y1="164.5" x2="787.5" y2="150.6"/>
</g>
<g fill="#e0101c">
<circle cx="328.6" cy="103.5" r="4.2"/>
<circle cx="265.5" cy="213.5" r="4"/>
<circle cx="424.8" cy="232.8" r="4"/>
<circle cx="274.8" cy="333.2" r="4.2"/>
<circle cx="367.6" cy="414.8" r="4.2"/>
<circle cx="529.3" cy="164.5" r="4.2"/>
</g>

<g class="g">
<text x="38.2" y="136.6" font-size="12.3" textLength="38.9" lengthAdjust="spacingAndGlyphs" fill="#6a6a6a" stroke="#6a6a6a" stroke-width="0.15">helmet</text>
<text x="38.2" y="153.2" font-size="12.3" textLength="42" lengthAdjust="spacingAndGlyphs" fill="#6a6a6a" stroke="#6a6a6a" stroke-width="0.15">camera</text>
<text x="35.9" y="218.6" font-size="13" textLength="63.4" lengthAdjust="spacingAndGlyphs" >Law enforcement</text>
<text x="52.1" y="237.3" font-size="13" textLength="30.9" lengthAdjust="spacingAndGlyphs" >recorder</text>
<text x="43.6" y="303.5" font-size="12.8" textLength="49.8" lengthAdjust="spacingAndGlyphs" >Handheld</text>
<text x="47.3" y="320" font-size="12.8" textLength="43" lengthAdjust="spacingAndGlyphs" >terminal</text>
<text x="36.8" y="382" font-size="13.5" textLength="60.3" lengthAdjust="spacingAndGlyphs" >microphone</text>
<text x="45.1" y="465.4" font-size="12.3" textLength="43.7" lengthAdjust="spacingAndGlyphs" fill="#707070" stroke="#707070" stroke-width="0.15">bracelet</text>
<text x="382" y="73.6" font-size="11" textLength="80.4" lengthAdjust="spacingAndGlyphs" >Airborne mesh</text>
<text x="382" y="88.6" font-size="11" textLength="37" lengthAdjust="spacingAndGlyphs" >station</text>
<text x="203.8" y="147.5" font-size="11" textLength="94.8" lengthAdjust="spacingAndGlyphs" >Individual soldier</text>
<text x="203.8" y="160.4" font-size="11" textLength="71.4" lengthAdjust="spacingAndGlyphs" >mesh station</text>
<text x="406" y="303.3" font-size="8.5" textLength="64" lengthAdjust="spacingAndGlyphs" fill="#555">Unmanned system</text>
<text x="406" y="312.9" font-size="8.5" textLength="44" lengthAdjust="spacingAndGlyphs" fill="#555">mesh station</text>
<text x="209.5" y="391" font-size="12.3" textLength="101.5" lengthAdjust="spacingAndGlyphs" >Unmanned system</text>
<text x="209.5" y="405.6" font-size="12.3" textLength="70.5" lengthAdjust="spacingAndGlyphs" >mesh station</text>
<text x="378" y="480.5" font-size="12.3" textLength="85.6" lengthAdjust="spacingAndGlyphs" >Handheld Mesh</text>
<text x="381" y="495.3" font-size="12.3" textLength="75.5" lengthAdjust="spacingAndGlyphs" >network radio</text>
<text x="506.7" y="132.6" font-size="10.5" textLength="112.1" lengthAdjust="spacingAndGlyphs" >Shipborne high power</text>
<text x="530.5" y="144.4" font-size="10.5" textLength="64.5" lengthAdjust="spacingAndGlyphs" >mesh station</text>
<text x="595" y="189.8" font-size="12" textLength="69.7" lengthAdjust="spacingAndGlyphs" >Shipborne satellite</text>
<text x="589.4" y="214.3" font-size="8" textLength="76.8" lengthAdjust="spacingAndGlyphs" >High bandwidth on board</text>
<text x="580.3" y="224.8" font-size="8" textLength="99.1" lengthAdjust="spacingAndGlyphs" >Mobile communication platform</text>
<text x="601" y="274" font-size="11" textLength="69.4" lengthAdjust="spacingAndGlyphs" >Three-guard switch</text>
<text x="540.3" y="479.7" font-size="14.5" textLength="85" lengthAdjust="spacingAndGlyphs" >Software platform</text>
<text x="774.5" y="118.6" font-size="11" textLength="51.4" lengthAdjust="spacingAndGlyphs" >shore-base</text>
<text x="744" y="132.1" font-size="11" textLength="112" lengthAdjust="spacingAndGlyphs" >High power base station</text>
<text x="816.9" y="161" font-size="10" textLength="83.4" lengthAdjust="spacingAndGlyphs" >Terrestrial satellite</text>
<text x="821" y="172.2" font-size="10" textLength="75.4" lengthAdjust="spacingAndGlyphs" >Receiving station</text>
<text x="701.4" y="234" font-size="9" textLength="88.2" lengthAdjust="spacingAndGlyphs" >Shore-based high bandwidth</text>
<text x="719" y="245" font-size="9" textLength="53" lengthAdjust="spacingAndGlyphs" >Tracking platform</text>
<text x="819.8" y="363.3" font-size="12.3" textLength="62.3" lengthAdjust="spacingAndGlyphs" >Command post</text>
<text x="764.4" y="458.2" font-size="13" textLength="94.4" lengthAdjust="spacingAndGlyphs" >Command center</text>
<text x="471.6" y="398.5" font-size="7.5" font-weight="bold" fill="#333">x</text>
</g>
</svg>
</body></html>
